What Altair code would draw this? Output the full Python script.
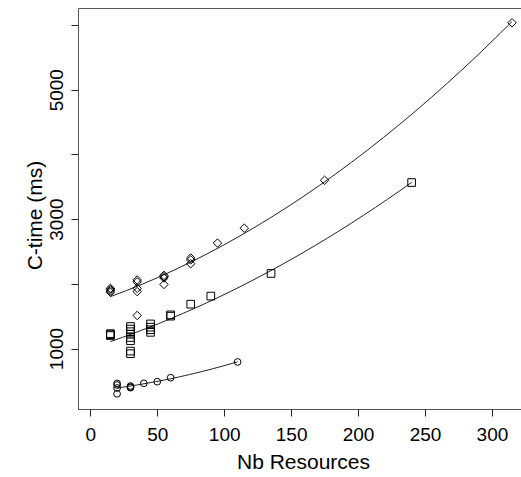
import altair as alt
import pandas as pd

# Series A (diamonds)
diamond_x = [15, 15, 15, 15, 35, 35, 35, 35, 35, 55, 55, 55, 55, 75, 75, 75, 95, 115, 175, 315]
diamond_y = [1870, 1890, 1910, 1930, 2030, 2060, 1930, 1880, 1510, 2090, 2110, 2130, 1990,
             2310, 2370, 2400, 2630, 2860, 3600, 6035]
# Series B (squares)
square_x = [15, 15, 15, 30, 30, 30, 30, 30, 30, 30, 30, 45, 45, 45, 45, 60, 60, 75, 90, 135, 240]
square_y = [1200, 1215, 1230, 1340, 1300, 1260, 1220, 1170, 1120, 960, 920,
            1380, 1330, 1290, 1250, 1500, 1520, 1685, 1810, 2160, 3565]
# Series C (circles)
circle_x = [20, 20, 20, 20, 30, 30, 30, 40, 50, 60, 110]
circle_y = [460, 436, 390, 300, 420, 405, 395, 462, 487, 549, 792]

x_ticks = [0, 50, 100, 150, 200, 250, 300]
y_ticks = [1000, 2000, 3000, 4000, 5000, 6000]

rows = []
for name, xs, ys in (("A", diamond_x, diamond_y), ("B", square_x, square_y), ("C", circle_x, circle_y)):
    for a, b in zip(xs, ys):
        rows.append({"series": name, "x": a, "y": b})
df = pd.DataFrame(rows)

FONT = "Liberation Sans"
xscale = alt.Scale(domain=[-9.2, 321.7], nice=False, zero=False)
yscale = alt.Scale(domain=[65, 6263], nice=False, zero=False)

xaxis = alt.Axis(values=x_ticks, title="Nb Resources", grid=False, domain=False,
                 tickSize=7, tickColor="#222", labelFontSize=19, labelFont=FONT,
                 labelColor="black", labelPadding=9, labelFlush=False,
                 titleFont=FONT, titleFontSize=21, titleFontWeight="normal", titleColor="black",
                 titleX=225, titleY=53, titleAlign="center", titleBaseline="middle")
yaxis = alt.Axis(values=y_ticks, title="C-time (ms)", grid=False, domain=False,
                 tickSize=7, tickColor="#222", labelFontSize=19, labelFont=FONT,
                 labelColor="black", labelPadding=9, labelAngle=270, labelAlign="center",
                 labelBaseline="alphabetic", labelFlush=False,
                 labelExpr="datum.value % 2000 == 1000 ? datum.label : ''", format="d",
                 titleFont=FONT, titleFontSize=21, titleFontWeight="normal", titleColor="black",
                 titleAngle=270, titleX=-43, titleY=207, titleAlign="center", titleBaseline="middle")

x_enc = alt.X("x:Q", scale=xscale, axis=xaxis)
y_enc = alt.Y("y:Q", scale=yscale, axis=yaxis)

lines = alt.Chart(df).transform_regression(
    "x", "y", groupby=["series"], method="poly", order=2
).mark_line(color="#222", strokeWidth=1).encode(
    x=x_enc, y=y_enc, detail="series:N"
)

points = alt.Chart(df).mark_point(filled=False, strokeWidth=1, color="black", opacity=1).encode(
    x=x_enc, y=y_enc,
    shape=alt.Shape("series:N", scale=alt.Scale(domain=["A", "B", "C"],
                                                range=["diamond", "square", "circle"]), legend=None),
    size=alt.Size("series:N", scale=alt.Scale(domain=["A", "B", "C"], range=[72, 45, 45]), legend=None),
)

chart = alt.layer(lines, points).properties(
    width=443, height=401,
    padding={"left": 78, "top": 8, "right": 0, "bottom": 68},
    autosize=alt.AutoSizeParams(type="none"),
    background="white",
).configure_view(stroke="#555", strokeWidth=1)

chart.save("out.html", embed_options={"renderer": "svg", "actions": False})
